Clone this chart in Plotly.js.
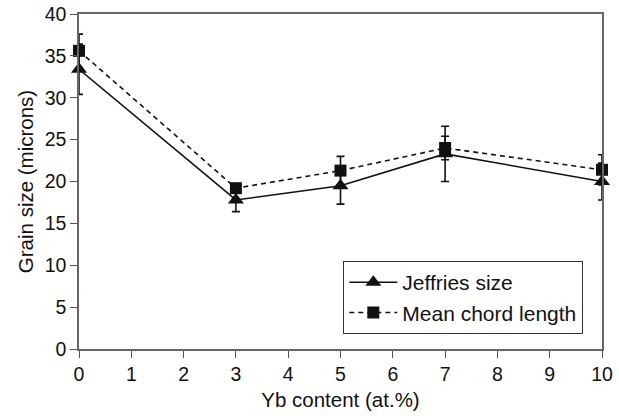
<!DOCTYPE html>
<html><head><meta charset="utf-8">
<script src="https://cdn.plot.ly/plotly-3.0.1.min.js"></script>
<style>html,body{margin:0;padding:0;background:#fff}</style>
</head><body>
<div id="chart" style="width:619px;height:416px"></div>
<script>
const xVals = [0, 3, 5, 7, 10];
const jeffries = [33.4, 17.8, 19.5, 23.3, 20.0];
const jeffriesErr = [3.0, 1.4, 2.2, 3.3, 2.2];
const chord = [35.6, 19.2, 21.3, 24.0, 21.4];
const chordErr = [2.0, 0.3, 1.7, 1.4, 1.8];
const xTicks = [0,1,2,3,4,5,6,7,8,9,10];
const yTicks = [0,5,10,15,20,25,30,35,40];

const fam = 'Liberation Sans, Arial, sans-serif';
const tickFont = {family: fam, size: 19.5, color: '#111'};
const titleFont = {family: fam, size: 20.5, color: '#111'};
const traces = [
  {x: xVals, y: jeffries, name: 'Jeffries size', legendgroup: 'a', type: 'scatter', mode: 'lines+markers', cliponaxis: false,
   line: {color: '#111', width: 1.6},
   marker: {symbol: 'triangle-up', size: 14, color: '#111'},
   error_y: {type: 'data', array: jeffriesErr, visible: true, color: '#111', thickness: 1.6, width: 4}},
  {x: xVals, y: chord, name: 'Mean chord length', legendgroup: 'b', type: 'scatter', mode: 'lines+markers', cliponaxis: false,
   line: {color: '#111', width: 1.6, dash: '5px,4px'},
   marker: {symbol: 'square', size: 12, color: '#111'},
   error_y: {type: 'data', array: chordErr, visible: true, color: '#111', thickness: 1.6, width: 4}}
];
const layout = {
  width: 619, height: 416,
  margin: {l: 79, r: 17, t: 14, b: 67},
  paper_bgcolor: '#fff', plot_bgcolor: '#fff',
  font: tickFont,
  showlegend: true,
  legend: {x: 0.505, y: 0.045, xanchor: 'left', yanchor: 'bottom', bordercolor: '#333', borderwidth: 1.2,
           bgcolor: '#fff', font: {family: fam, size: 21, color: '#111'},
           traceorder: 'grouped', tracegroupgap: 0, itemwidth: 48},
  xaxis: {range: [0, 10], tickvals: xTicks, ticks: 'outside', ticklen: 7, tickcolor: '#555', tickwidth: 1.3,
          tickfont: tickFont,
          showline: true, linecolor: '#666', linewidth: 1.5, mirror: true, showgrid: false, zeroline: false,
          title: {text: 'Yb content (at.%)', font: titleFont, standoff: 8}},
  yaxis: {range: [0, 40], tickvals: yTicks, ticks: 'outside', ticklen: 7, tickcolor: '#555', tickwidth: 1.3,
          tickfont: tickFont,
          showline: true, linecolor: '#666', linewidth: 1.5, mirror: true, showgrid: false, zeroline: false,
          title: {text: 'Grain size (microns)', font: titleFont, standoff: 5}}
};
Plotly.newPlot('chart', traces, layout, {displayModeBar: false});
</script>
</body></html>
